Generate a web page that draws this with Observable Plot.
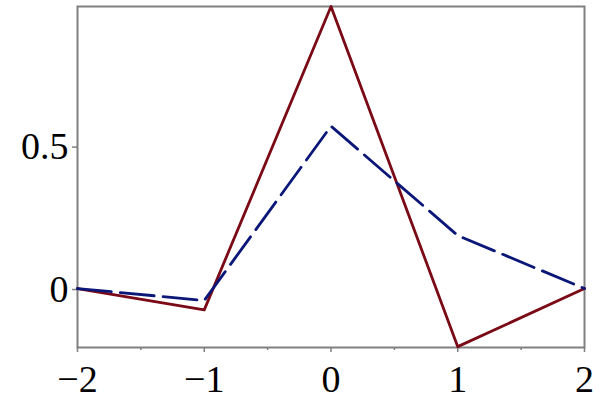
<!DOCTYPE html>
<html>
<head>
<meta charset="utf-8">
<script src="https://cdn.jsdelivr.net/npm/d3@7"></script>
<script src="https://cdn.jsdelivr.net/npm/@observablehq/plot@0.6"></script>
<style>
  html, body { margin: 0; padding: 0; background: #fff; }
</style>
</head>
<body>
<div id="chart"></div>
<script>
const xs = [-2, -1, 0, 1, 2];
const solidY = [0, -0.075, 0.99, -0.204, 0];
const dashedY = [0, -0.042, 0.57, 0.186, 0];
const xMajorTicks = [-2, -1, 0, 1, 2];
const xMinorTicks = [-1.5, -0.5, 0.5, 1.5];
const yTicks = [0, 0.5];
const yTickLabels = ["0", "0.5"];

const solid = xs.map((x, i) => ({x, y: solidY[i]}));
const dashed = xs.map((x, i) => ({x, y: dashedY[i]}));

const gray = "#808080";
const font = "'Liberation Serif', 'Times New Roman', serif";

const chart = Plot.plot({
  width: 600,
  height: 412,
  marginLeft: 77,
  marginRight: 16,
  marginTop: 6,
  marginBottom: 65,
  style: {fontFamily: font, background: "#fff", color: "#000"},
  x: {domain: [-2, 2], label: null},
  y: {domain: [-0.207, 0.99], label: null},
  marks: [
    Plot.frame({stroke: gray, strokeWidth: 2}),
    Plot.axisX(xMinorTicks, {tickSize: 3, stroke: gray, tickFormat: () => "", strokeWidth: 1.5, label: null}),
    Plot.axisX(xMajorTicks, {tickSize: 5, tickPadding: 13, stroke: gray, strokeWidth: 1.5, fontSize: 38, fill: "#000", label: null,
      tickFormat: d => d < 0 ? "\u2212" + Math.abs(d) : String(d)}),
    Plot.axisY(yTicks, {tickSize: 5, tickPadding: 4, stroke: gray, strokeWidth: 1.5, fontSize: 38, fill: "#000", label: null,
      dy: 1, tickFormat: (d, i) => yTickLabels[i]}),
    Plot.line(solid, {x: "x", y: "y", stroke: "#7a0a16", strokeWidth: 2.8}),
    Plot.line(dashed, {x: "x", y: "y", stroke: "#0a1778", strokeWidth: 2.8, strokeDasharray: "34,9"})
  ]
});
document.getElementById("chart").appendChild(chart);
</script>
</body>
</html>
